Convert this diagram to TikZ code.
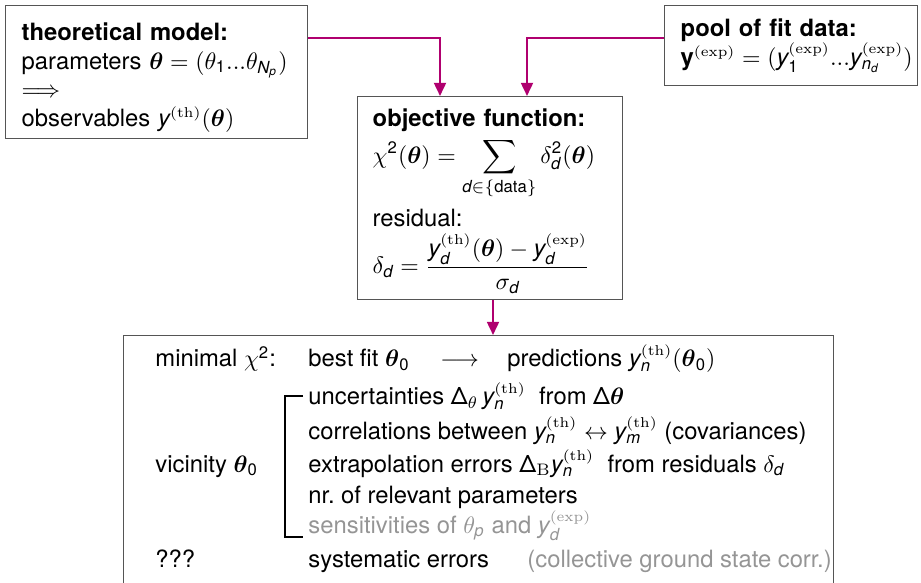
\documentclass[tikz,border=0pt]{standalone}
\usepackage{amsmath}
\usepackage[no-math]{fontspec}
\setmainfont{TeX Gyre Heros}[NFSSFamily=heros]
\usetikzlibrary{calc,arrows.meta}
% sans letters and digits in math, as on the slide
\DeclareSymbolFont{sfletters}{TU}{heros}{m}{it}
\DeclareSymbolFont{sfdigits}{TU}{heros}{m}{n}
\DeclareMathSymbol{y}{\mathalpha}{sfletters}{`y}
\DeclareMathSymbol{d}{\mathalpha}{sfletters}{`d}
\DeclareMathSymbol{n}{\mathalpha}{sfletters}{`n}
\DeclareMathSymbol{m}{\mathalpha}{sfletters}{`m}
\DeclareMathSymbol{p}{\mathalpha}{sfletters}{`p}
\DeclareMathSymbol{N}{\mathalpha}{sfletters}{`N}
\DeclareMathSymbol{0}{\mathalpha}{sfdigits}{`0}
\DeclareMathSymbol{1}{\mathalpha}{sfdigits}{`1}
\DeclareMathSymbol{2}{\mathalpha}{sfdigits}{`2}
\newcommand{\sDelta}{\text{Δ}}
\newcommand{\vecy}{\text{\bfseries y}}
\newcommand{\supfont}[1]{\text{\usefont{OT1}{cmr}{m}{n}\fontsize{6}{6}\selectfont #1}}
\newcommand{\thsup}{\supfont{(th)}}
\newcommand{\expsup}{\supfont{(exp)}}
\newcommand{\pxl}{0.42pt}
\definecolor{boxgrey}{HTML}{555555}
\definecolor{linkcol}{HTML}{B0006F}
\definecolor{greytext}{HTML}{959595}

\begin{document}
\begin{tikzpicture}[x=\pxl,y=-\pxl,
  box/.style={draw=boxgrey,line width=0.6pt,rectangle,anchor=north west,align=left,inner ysep=0pt},
  link/.style={draw=linkcol,line width=0.9pt,-{Triangle[width=5pt,length=5.5pt]}},
  txt/.style={anchor=base west,inner sep=0pt}]
\useasboundingbox (0,0) rectangle (921,583);

\node[box,minimum width=302*\pxl,minimum height=133*\pxl,text width=270*\pxl,inner xsep=16*\pxl,text height=12pt] (theory) at (5,5)
  {\textbf{theoretical model:}\\
   parameters $\boldsymbol\theta=(\theta_1...\theta_{N_p})$\\
   $\Longrightarrow$\\
   observables $y^{\thsup}(\boldsymbol\theta)$};
\node[box,minimum width=253*\pxl,minimum height=80*\pxl,text width=221*\pxl,inner xsep=16*\pxl] (pool) at (664,5)
  {\textbf{pool of fit data:}\\
   ${\vecy^{\expsup}=(y_1^{\expsup}...y_{n_d}^{\expsup})}$};
\node[box,minimum width=265*\pxl,minimum height=203*\pxl,text width=235*\pxl,inner xsep=15*\pxl,text height=10pt] (objective) at (357,96)
  {\textbf{objective function:}\\[2pt]
   $\displaystyle\chi^2(\boldsymbol\theta)=\sum_{d\in\{\text{data}\}}\delta_d^2(\boldsymbol\theta)$\\[3pt]
   residual:\\[2pt]
   $\displaystyle\delta_d=\frac{y_d^{\thsup}(\boldsymbol\theta)-y_d^{\expsup}}{\sigma_d}$};
\node[box,minimum width=710*\pxl,minimum height=300*\pxl] (results) at (123,335) {};

\draw[link] ($(theory.north east)+(0,33)$) -| ($(objective.north west)+(83,0)$);
\draw[link] ($(pool.north west)+(0,33)$) -| ($(objective.north west)+(170,0)$);
\coordinate (objout) at ($(objective.south west)+(136,0)$);
\draw[link] (objout) -- (objout |- results.north);

\node[txt] (minchi) at (155,367) {minimal $\chi^2$:};
\node[txt] (bestfit) at (308,367) {best fit $\boldsymbol\theta_0$};
\node[txt] (fitarrow) at (440,367) {$\longrightarrow$};
\node[txt] (predict) at (507,367) {predictions $y_n^{\thsup}(\boldsymbol\theta_0)$};
\node[txt] (uncert) at (308,405) {uncertainties $\sDelta_\theta\,y_n^{\thsup}$\ \ from $\sDelta\boldsymbol\theta$};
\node[txt] (correl) at (308,439) {correlations between $y_n^{\thsup}\leftrightarrow y_m^{\thsup}$ (covariances)};
\node[txt] (vicin) at (155,472) {vicinity $\boldsymbol\theta_0$};
\node[txt] (extrap) at (308,472) {extrapolation errors $\sDelta_{\mathrm{B}}y_n^{\thsup}$\ \ from residuals $\delta_d$};
\node[txt] (nrpar) at (308,503) {nr.\ of relevant parameters};
\node[txt,text=greytext] (sensit) at (308,533) {sensitivities of $\theta_p$ and $y_d^{\expsup}$};
\node[txt] (unknown) at (155,567) {???};
\node[txt] (syserr) at (308,567) {systematic errors};
\node[txt,text=greytext] (collect) at (527,567) {(collective ground state corr.)};
\draw[line width=0.7pt] (303,396) -- (285,396) -- (285,537) -- (303,537);
\end{tikzpicture}
\end{document}
